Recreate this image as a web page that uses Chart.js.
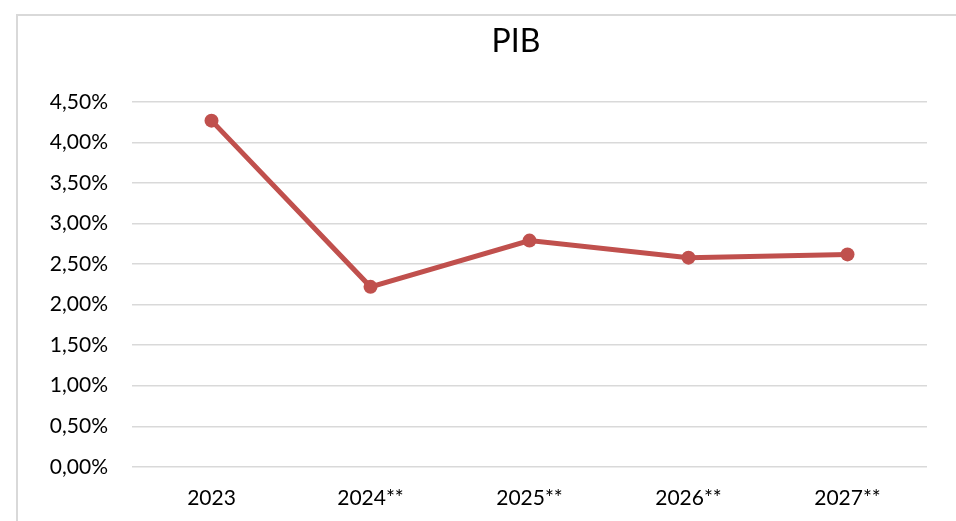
<!DOCTYPE html>
<html>
<head>
<meta charset="utf-8">
<script src="https://cdn.jsdelivr.net/npm/chart.js@4/dist/chart.umd.min.js"></script>
<style>
  html, body { margin: 0; padding: 0; background: #ffffff; overflow: hidden; width: 956px; height: 521px; }
  #frame { position: absolute; left: 16px; top: 14px; width: 1000px; height: 540px; border: 2px solid #d9d9d9; background: #fff; }
  canvas { display: block; }
</style>
</head>
<body>
<div id="frame"><canvas id="c" width="1000" height="540"></canvas></div>
<script>
const categories = ['2023', '2024**', '2025**', '2026**', '2027**'];
const pibValues = [4.27, 2.22, 2.79, 2.58, 2.62];
const yTicks = [0, 0.5, 1, 1.5, 2, 2.5, 3, 3.5, 4, 4.5];
const chartTitle = 'PIB';

const fontFamily = 'Lato, "Liberation Sans", sans-serif';

// Title centred on the (clipped) chart frame, as in the original
const frameTitle = {
  id: 'frameTitle',
  afterDraw(chart) {
    const ctx = chart.ctx;
    ctx.save();
    ctx.fillStyle = '#000000';
    ctx.font = 'normal 32px ' + fontFamily;
    ctx.textAlign = 'center';
    ctx.textBaseline = 'middle';
    ctx.fillText(chartTitle, chart.width / 2 - 2, 26);
    ctx.restore();
  }
};

new Chart(document.getElementById('c'), {
  type: 'line',
  data: {
    labels: categories,
    datasets: [{
      label: chartTitle,
      data: pibValues,
      borderColor: '#C0504D',
      backgroundColor: '#C0504D',
      borderWidth: 5,
      pointRadius: 7,
      pointBorderWidth: 0,
      pointBackgroundColor: '#C0504D',
      tension: 0,
      fill: false
    }]
  },
  plugins: [frameTitle],
  options: {
    responsive: false,
    animation: false,
    events: [],
    layout: { padding: { left: 0, right: 91, top: 86, bottom: 26 } },
    plugins: {
      legend: { display: false },
      tooltip: { enabled: false },
      title: { display: false }
    },
    scales: {
      x: {
        offset: true,
        grid: { display: false, drawTicks: false },
        border: { display: false },
        ticks: { color: '#000000', padding: 19, font: { family: fontFamily, size: 21, lineHeight: 1.2 } }
      },
      y: {
        min: yTicks[0],
        max: yTicks[yTicks.length - 1],
        afterBuildTicks: (scale) => { scale.ticks = yTicks.map(v => ({ value: v })); },
        afterFit: (scale) => { scale.width = 114; },
        grid: { color: '#d9d9d9', lineWidth: 1.5, drawTicks: false },
        border: { display: false },
        ticks: {
          color: '#000000',
          padding: 24,
          font: { family: fontFamily, size: 21, lineHeight: 1.2 },
          callback: (v) => Number(v).toFixed(2).replace('.', ',') + '%'
        }
      }
    }
  }
});
</script>
</body>
</html>
